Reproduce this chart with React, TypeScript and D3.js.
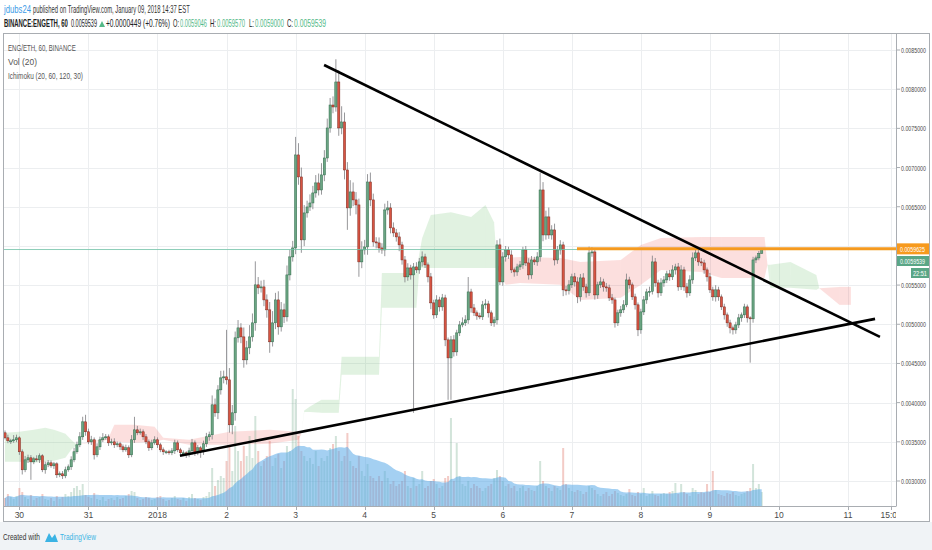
import React, { useLayoutEffect, useRef, useState } from 'react';
import * as d3 from 'd3';

// ENG/ETH hourly candles, prices in 1e-6 ETH
const openStart = 3615;
const closes = [
  3551, 3513, 3513, 3526, 3551, 3373, 3143, 3270, 3296, 3245,
  3283, 3270, 3322, 3143, 3207, 3232, 3194, 3219, 3079, 3092,
  3066, 3143, 3181, 3270, 3373, 3462, 3564, 3755, 3628, 3500,
  3526, 3334, 3436, 3526, 3551, 3564, 3487, 3500, 3462, 3475,
  3436, 3398, 3424, 3334, 3526, 3653, 3615, 3628, 3564, 3500,
  3424, 3487, 3526, 3462, 3398, 3373, 3373, 3360, 3385, 3487,
  3398, 3360, 3360, 3334, 3385, 3487, 3360, 3424, 3373, 3475,
  3564, 3590, 3972, 3870, 4163, 4316, 4329, 4291, 3717, 3870,
  4827, 4954, 4839, 4546, 4699, 4839, 5018, 5503, 5465, 5477,
  5311, 5184, 4776, 5018, 5311, 4967, 5184, 5095, 5630, 5860,
  5974, 7161, 6880, 6077, 6421, 6497, 6548, 6676, 6804, 6714,
  6906, 7122, 7505, 7798, 7773, 8092, 7505, 7582, 6969, 6485,
  6689, 6587, 6523, 5796, 5949, 5987, 6816, 6587, 6051, 6038,
  5974, 5949, 6459, 6485, 6230, 6166, 6115, 6013, 5821, 5605,
  5719, 5630, 5732, 5694, 5796, 5860, 5758, 5605, 5273, 5120,
  5311, 5222, 5337, 4801, 4571, 4801, 4648, 4890, 4992, 5018,
  5056, 5413, 5209, 5146, 5107, 5095, 5248, 5260, 5146, 5018,
  5056, 6013, 5541, 5860, 5949, 5885, 5694, 5668, 5732, 5758,
  5949, 5783, 5630, 5821, 5796, 5860, 6714, 6140, 6370, 6140,
  6204, 5821, 5949, 6013, 5439, 5430, 5503, 5605, 5541, 5350,
  5592, 5477, 5401, 5911, 5923, 5375, 5503, 5541, 5477, 5465,
  5337, 5311, 5018, 5146, 5184, 5248, 5566, 5503, 5350, 5248,
  4929, 5158, 5311, 5413, 5420, 5796, 5528, 5401, 5528, 5566,
  5643, 5605, 5694, 5732, 5477, 5694, 5477, 5401, 5566, 5847,
  5911, 5796, 5783, 5694, 5605, 5439, 5350, 5439, 5350, 5222,
  5120, 5018, 4954, 4929, 4992, 5082, 5120, 5222, 5082, 5070,
  5821, 5847, 5905, 5954,
];
// wick lengths above / below the body
const wickUp = [
  30, 40, 25, 60, 40, 20, 30, 50, 40, 35,
  25, 45, 30, 20, 40, 35, 30, 25, 20, 30,
  35, 40, 30, 45, 50, 40, 60, 65, 90, 40,
  50, 30, 45, 40, 60, 35, 30, 40, 45, 30,
  25, 30, 40, 30, 60, 166, 50, 40, 30, 35,
  30, 40, 45, 30, 25, 30, 20, 25, 35, 40,
  30, 25, 30, 20, 40, 50, 30, 35, 25, 40,
  50, 40, 120, 80, 60, 90, 80, 600, 150, 100,
  80, 100, 60, 120, 90, 150, 120, 300, 100, 80,
  90, 70, 100, 150, 90, 110, 100, 80, 120, 90,
  90, 230, 150, 120, 100, 80, 110, 90, 100, 120,
  150, 100, 120, 90, 110, 290, 150, 200, 120, 100,
  150, 120, 100, 80, 110, 90, 100, 120, 80, 60,
  70, 60, 80, 90, 60, 70, 50, 60, 40, 50,
  60, 40, 50, 60, 50, 70, 40, 30, 50, 40,
  60, 40, 50, 40, 30, 50, 60, 40, 50, 70,
  60, 190, 40, 50, 30, 40, 50, 60, 40, 30,
  40, 60, 80, 60, 50, 40, 60, 30, 40, 50,
  40, 50, 60, 50, 40, 60, 220, 100, 80, 120,
  60, 80, 50, 60, 40, 50, 60, 40, 50, 60,
  50, 60, 40, 80, 60, 50, 40, 60, 40, 50,
  40, 50, 30, 40, 50, 60, 80, 40, 30, 40,
  30, 40, 50, 40, 60, 80, 50, 40, 60, 50,
  40, 50, 60, 40, 50, 60, 40, 50, 60, 70,
  60, 40, 50, 40, 30, 50, 40, 60, 40, 30,
  40, 30, 40, 30, 40, 50, 30, 40, 30, 20,
  40, 30, 30, 3,
];
const wickDn = [
  20, 30, 40, 25, 30, 40, 60, 30, 40, 230,
  30, 25, 40, 30, 50, 30, 25, 40, 40, 30,
  40, 30, 25, 40, 30, 25, 30, 40, 50, 30,
  40, 60, 30, 40, 30, 25, 40, 30, 40, 30,
  40, 30, 25, 40, 30, 40, 30, 25, 40, 30,
  40, 30, 25, 40, 30, 40, 30, 25, 30, 40,
  30, 40, 25, 40, 30, 50, 40, 30, 77, 40,
  40, 50, 60, 50, 80, 60, 70, 60, 100, 120,
  100, 60, 80, 100, 60, 80, 60, 100, 80, 60,
  80, 100, 140, 60, 80, 100, 60, 80, 60, 70,
  60, 80, 100, 165, 80, 60, 50, 80, 60, 70,
  60, 80, 50, 60, 80, 60, 100, 80, 120, 280,
  100, 80, 120, 190, 80, 60, 100, 80, 60, 70,
  60, 50, 80, 60, 70, 50, 60, 80, 60, 70,
  50, 60, 1760, 40, 50, 60, 40, 70, 80, 50,
  40, 60, 50, 80, 535, 535, 60, 50, 40, 30,
  40, 50, 60, 40, 50, 30, 40, 50, 60, 40,
  50, 60, 40, 50, 60, 50, 40, 60, 50, 40,
  50, 40, 60, 50, 40, 50, 60, 80, 60, 50,
  60, 70, 50, 60, 80, 60, 50, 40, 60, 80,
  60, 50, 60, 40, 50, 60, 50, 40, 60, 50,
  40, 50, 60, 40, 50, 40, 30, 50, 40, 60,
  80, 50, 40, 50, 60, 40, 50, 60, 40, 50,
  40, 50, 40, 60, 50, 40, 50, 60, 40, 50,
  40, 50, 40, 50, 60, 40, 50, 60, 50, 40,
  60, 50, 70, 60, 50, 40, 50, 40, 60, 560,
  50, 40, 30, 5,
];
const volumes = [
  8, 12, 9, 7, 10, 18, 14, 9, 7, 11,
  6, 8, 9, 12, 7, 6, 8, 5, 10, 7,
  9, 12, 10, 14, 18, 20, 16, 22, 11, 9,
  8, 13, 7, 6, 9, 5, 7, 8, 6, 9,
  7, 8, 10, 12, 15, 14, 8, 6, 7, 9,
  8, 6, 7, 9, 10, 7, 5, 6, 8, 10,
  7, 6, 8, 5, 9, 12, 8, 7, 6, 9,
  10, 14, 38, 20, 26, 30, 28, 45, 60, 35,
  80, 55, 45, 60, 50, 70, 48, 90, 55, 40,
  45, 50, 65, 40, 48, 52, 38, 45, 60, 55,
  117, 107, 70, 55, 50, 45, 48, 42, 55, 40,
  48, 45, 50, 58, 62, 70, 55, 45, 50, 73,
  45, 40, 38, 50, 35, 30, 42, 30, 28, 25,
  30, 25, 35, 28, 22, 25, 20, 22, 25, 35,
  20, 18, 28, 20, 22, 35, 18, 20, 25, 27,
  22, 18, 20, 28, 30, 88, 25, 63, 30, 22,
  20, 25, 18, 22, 20, 18, 15, 18, 20, 22,
  28, 36, 30, 25, 20, 22, 18, 20, 15, 18,
  20, 15, 18, 16, 15, 20, 45, 25, 20, 18,
  15, 20, 18, 16, 58, 22, 18, 15, 14, 16,
  15, 12, 14, 20, 18, 16, 12, 10, 12, 14,
  10, 12, 15, 13, 11, 10, 12, 17, 11, 10,
  14, 12, 18, 10, 12, 15, 11, 10, 12, 13,
  12, 14, 15, 23, 12, 22, 14, 12, 10, 18,
  16, 12, 14, 13, 22, 14, 35, 16, 12, 11,
  10, 13, 12, 14, 11, 10, 12, 13, 15, 18,
  42, 18, 22, 14,
];

// Ichimoku cloud edges (hour index from first candle, leading spans A and B)
const cloudHours = [
  0, 5, 10, 14, 17, 21, 23, 25, 36, 38, 45, 52, 55, 64, 78, 92, 102, 103,
  104, 106, 110, 116, 117, 130, 131, 143, 144, 145, 148, 155, 162, 167, 170,
  171, 174, 179, 193, 200, 214, 221, 228, 242, 249, 264, 265, 266, 273, 282,
  283, 290, 294,
];
const spanA = [
  3615, 3628, 3653, 3679, 3653, 3602, 3526, 3462, 3526, 3500, 3487, 3500, 3526, 3462, 3462, 3475, 3526, 3600,
  3900, 3950, 4036, 4036, 4584, 4584, 5655, 5655, 5900, 6100, 6396, 6430, 6370, 6523, 6300,
  5719, 5503, 5528, 5503, 5311, 5337, 5503, 5694, 5668, 5592, 5592, 5758, 5758, 5796, 5630,
  5460, 5248, 5248,
];
const spanB = [
  3245, 3245, 3232, 3245, 3258, 3296, 3398, 3462, 3551, 3717, 3717, 3692, 3551, 3526, 3628, 3653, 3628, 3600,
  3880, 3880, 3870, 3870, 4355, 4355, 5210, 5210, 5719, 5719, 5719, 5719, 5719, 5719, 5719,
  5719, 5847, 5860, 5847, 5796, 5821, 6013, 6102, 6115, 6115, 6115, 5758, 5465, 5465, 5439,
  5460, 5477, 5477,
];

const priceTicks = [3000, 3500, 4000, 4500, 5000, 5500, 6000, 6500, 7000, 7500, 8000, 8500];
const timeTicks = [
  new Date(2017, 11, 30), new Date(2017, 11, 31), new Date(2018, 0, 1), new Date(2018, 0, 2),
  new Date(2018, 0, 3), new Date(2018, 0, 4), new Date(2018, 0, 5), new Date(2018, 0, 6),
  new Date(2018, 0, 7), new Date(2018, 0, 8), new Date(2018, 0, 9), new Date(2018, 0, 10),
  new Date(2018, 0, 11), new Date(2018, 0, 11, 15),
];
const timeLabels = ['30', '31', '2018', '2', '3', '4', '5', '6', '7', '8', '9', '10', '11', '15:00'];

// drawn lines: [hour index, price]
const trendDown = [[110.9, 8309], [304.1, 4839]];
const trendUp = [[60.8, 3322], [302.4, 5069]];
const resistance = { from: 198.8, price: 5962.5 };
const lastPrice = 5953.9;

// header quote line: [text, colour, bold, x, width]
const quoteParts: [string, string, boolean, number, number][] = [
  ['BINANCE:ENGETH, 60', '#222', true, 4, 64],
  ['0.0059539', '#222', false, 71, 26],
  ['+0.0000449 (+0.76%)', '#222', false, 106, 64],
  ['O:', '#222', false, 173, 6],
  ['0.0059046', '#53b987', false, 180, 27],
  ['H:', '#222', false, 210, 6],
  ['0.0059570', '#53b987', false, 217, 28],
  ['L:', '#222', false, 249, 5],
  ['0.0059000', '#53b987', false, 255, 29],
  ['C:', '#222', false, 287, 6],
  ['0.0059539', '#53b987', false, 294, 32],
];

const pane = { left: 4, top: 34, right: 896, bottom: 506 };
const frame = { right: 929, bottom: 521 };
const upColor = '#6ba583';
const downColor = '#d75442';
const narrow = '"Liberation Sans Narrow", "Arial Narrow", "Liberation Sans", sans-serif';

const firstCandle = new Date(2017, 11, 29, 19);
const at = (h: number) => new Date(firstCandle.getTime() + h * 3600 * 1000);

const x = d3.scaleTime().domain([firstCandle, at(263)]).range([5, 761.7]);
const y = d3.scaleLinear().domain([3000, 8500]).range([481, 50]);
const yVol = d3.scaleLinear().domain([0, 125]).range([pane.bottom, pane.bottom - 125]);
const fmt = (v: number) => (v / 1e6).toFixed(7);

const candles = closes.map((c, i) => {
  const o = i === 0 ? openStart : closes[i - 1];
  return {
    t: at(i),
    o,
    c,
    h: Math.max(o, c) + wickUp[i],
    l: Math.min(o, c) - wickDn[i],
    v: volumes[i],
  };
});

const volMA = volumes.map((_, i) => {
  const win = volumes.slice(Math.max(0, i - 19), i + 1);
  return d3.mean(win) as number;
});

const Cloud = () => {
  const segs = [];
  for (let k = 0; k < cloudHours.length - 1; k++) {
    const x0 = x(at(cloudHours[k]));
    const x1 = x(at(cloudHours[k + 1]));
    const bull = spanA[k] + spanA[k + 1] >= spanB[k] + spanB[k + 1];
    const pts = [
      [x0, y(spanA[k])], [x1, y(spanA[k + 1])],
      [x1, y(spanB[k + 1])], [x0, y(spanB[k])],
    ];
    segs.push(
      <polygon key={k} points={pts.map(p => p.join(',')).join(' ')}
        fill={bull ? '#4caf50' : '#ef5350'} fillOpacity={bull ? 0.17 : 0.19} />
    );
  }
  return <g>{segs}</g>;
};

// squeezes a label horizontally so it fills the width it takes in the screenshot
const NarrowText = ({ x0, y0, w, size, fill, bold, children }: any) => {
  const ref = useRef<SVGTextElement>(null);
  const [sx, setSx] = useState(1);
  useLayoutEffect(() => {
    const len = ref.current ? ref.current.getComputedTextLength() : 0;
    if (len > 0) setSx(w / len);
  }, [w, children]);
  return (
    <text ref={ref} transform={`translate(${x0},${y0}) scale(${sx},1)`} fontFamily={narrow} fontSize={size}
      fill={fill} fontWeight={bold ? 'bold' : 'normal'}>{children}</text>
  );
};

const App = () => {
  const area = d3.area<number>()
    .x((_, i) => x(candles[i].t))
    .y0(pane.bottom)
    .y1(d => yVol(d));

  const line = (pts: number[][]) =>
    d3.line<number[]>().x(p => x(at(p[0]))).y(p => y(p[1]))(pts) as string;

  const resY = y(resistance.price);
  const lastY = y(lastPrice);
  // tick labels hidden behind the price badges
  const tickLabels = priceTicks.filter(p => Math.abs(y(p) - resY) > 10 && Math.abs(y(p) - 266) > 16);

  return (
    <svg width={932} height={550} style={{ display: 'block', background: '#fff' }}>
      <style>{`body{margin:0}`}</style>
      <defs>
        <clipPath id="paneClip">
          <rect x={pane.left} y={pane.top} width={pane.right - pane.left} height={pane.bottom - pane.top} />
        </clipPath>
        <clipPath id="axisClip">
          <rect x={pane.left} y={pane.bottom} width={pane.right - pane.left} height={frame.bottom - pane.bottom} />
        </clipPath>
      </defs>

      {/* header */}
      <NarrowText x0={4} y0={13} w={27} size={10.5} fill="#3c9be6">jdubs24</NarrowText>
      <NarrowText x0={33} y0={13} w={157} size={10.5} fill="#333">published on TradingView.com, January 09, 2018 14:37 EST</NarrowText>
      {quoteParts.map(([t, c, b, px, w], i) => (
        <NarrowText key={i} x0={px} y0={27} w={w} size={10.5} fill={c} bold={b}>{t}</NarrowText>
      ))}
      <path d="M99,27 L102,21 L105,27 Z" fill="#53b987" />

      {/* grid */}
      <g stroke="#eceef0" strokeWidth={1}>
        {priceTicks.map(p => (
          <line key={p} x1={pane.left} x2={pane.right} y1={Math.round(y(p)) + 0.5} y2={Math.round(y(p)) + 0.5} />
        ))}
        {timeTicks.map((t, i) => (
          <line key={i} x1={Math.round(x(t)) + 0.5} x2={Math.round(x(t)) + 0.5} y1={pane.top} y2={pane.bottom} />
        ))}
      </g>

      <g clipPath="url(#paneClip)">
        <Cloud />

        {/* volume */}
        {candles.map((d, i) => (
          <rect key={i} x={x(d.t) - 1} width={2} y={yVol(d.v)} height={pane.bottom - yVol(d.v)}
            fill={d.c >= d.o ? upColor : downColor} fillOpacity={0.3} />
        ))}
        <path d={area(volMA) as string} fill="#5aaae8" fillOpacity={0.55} />

        {/* candles */}
        {candles.map((d, i) => {
          const cx = x(d.t);
          const up = d.c >= d.o;
          const top = y(Math.max(d.o, d.c));
          const h = Math.max(1, y(Math.min(d.o, d.c)) - top);
          return (
            <g key={i}>
              <line x1={cx} x2={cx} y1={y(d.h)} y2={y(d.l)} stroke="#7c7c80" strokeWidth={0.8} />
              <rect x={cx - 1.1} y={top} width={2.2} height={h}
                fill={up ? upColor : downColor} stroke={up ? '#2f6b4a' : '#7a2a20'} strokeWidth={0.5} />
            </g>
          );
        })}

        {/* last price line */}
        <line x1={pane.left} x2={pane.right} y1={lastY} y2={lastY} stroke="#6fc0a6" strokeWidth={1} strokeOpacity={0.8} />

        {/* drawings */}
        <line x1={x(at(resistance.from))} x2={pane.right} y1={resY} y2={resY} stroke="#f59a1f" strokeWidth={3} />
        <path d={line(trendDown)} stroke="#000" strokeWidth={2.6} fill="none" />
        <path d={line(trendUp)} stroke="#000" strokeWidth={2.6} fill="none" />
      </g>

      {/* legend */}
      <NarrowText x0={8} y0={51} w={68} size={9.5} fill="#555">ENG/ETH, 60, BINANCE</NarrowText>
      <NarrowText x0={8} y0={65} w={29} size={9.5} fill="#555">Vol (20)</NarrowText>
      <NarrowText x0={8} y0={79} w={75} size={9.5} fill="#555">Ichimoku (20, 60, 120, 30)</NarrowText>

      {/* frame */}
      <g stroke="#a9adb2" strokeWidth={1} fill="none">
        <rect x={pane.left - 0.5} y={pane.top - 0.5} width={frame.right - pane.left + 1} height={frame.bottom - pane.top + 1} />
        <line x1={pane.right + 0.5} x2={pane.right + 0.5} y1={pane.top} y2={pane.bottom} />
        <line x1={pane.left} x2={pane.right + 0.5} y1={pane.bottom + 0.5} y2={pane.bottom + 0.5} />
      </g>

      {/* price axis */}
      {priceTicks.map(p => (
        <line key={p} x1={pane.right} x2={pane.right + 4} y1={y(p)} y2={y(p)} stroke="#a9adb2" />
      ))}
      {tickLabels.map(p => (
        <NarrowText key={p} x0={901} y0={y(p) + 3} w={25} size={8} fill="#4a4a4a">{fmt(p)}</NarrowText>
      ))}
      <rect x={897} y={resY - 5.5} width={32} height={11} fill="#f79a1e" />
      <NarrowText x0={900} y0={resY + 3} w={25} size={8} fill="#fff">{fmt(resistance.price)}</NarrowText>
      <rect x={897} y={256} width={32} height={10} fill="#5aa686" />
      <NarrowText x0={900} y0={264} w={25} size={8} fill="#fff">{fmt(lastPrice)}</NarrowText>
      <rect x={911} y={268} width={18} height={10} fill="#5aa686" />
      <NarrowText x0={913} y0={276} w={14} size={8} fill="#fff">22:51</NarrowText>

      {/* time axis */}
      <g clipPath="url(#axisClip)" fontFamily={narrow} fontSize={8.5} fill="#4a4a4a" textAnchor="middle">
        {timeTicks.map((t, i) => (
          <g key={i}>
            <line x1={Math.round(x(t)) + 0.5} x2={Math.round(x(t)) + 0.5} y1={pane.bottom} y2={pane.bottom + 4} stroke="#a9adb2" />
            <text x={x(t)} y={518}>{timeLabels[i]}</text>
          </g>
        ))}
      </g>

      {/* footer */}
      <rect x={0} y={frame.bottom + 1} width={932} height={550 - frame.bottom - 1} fill="#f0f3f6" />
      <NarrowText x0={3} y0={540} w={37} size={9.5} fill="#333">Created with</NarrowText>
      <path d="M45,542 L49,533 L52,538 L55,534 L58,542 Z" fill="#3bb3e4" />
      <NarrowText x0={60} y0={540} w={36} size={9.5} fill="#3bb3e4">TradingView</NarrowText>
    </svg>
  );
};

export default App;
